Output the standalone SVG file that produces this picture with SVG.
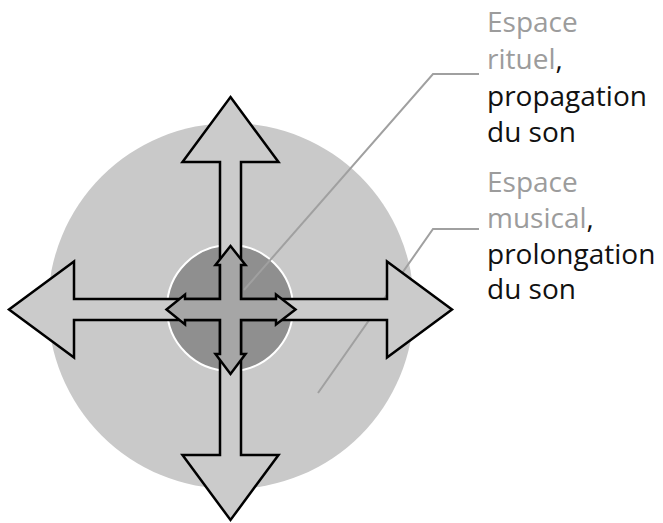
<svg xmlns="http://www.w3.org/2000/svg" width="663" height="523" viewBox="0 0 663 523">
<style>
.lbl{font-family:"Open Sans","Noto Sans",sans-serif;font-size:28px}
.g{fill:#9c9c9c}
.k{fill:#111111}
.lead{fill:none;stroke:#a0a0a0;stroke-width:2}
.arrow{stroke:#000;stroke-width:2.5;stroke-linejoin:miter}
</style>
<rect width="663" height="523" fill="#ffffff"/>
<g id="outer-space">
<circle cx="231" cy="306" r="183" fill="#c9c9c9"/>
</g>
<g id="inner-space">
<circle cx="230" cy="308" r="63" fill="#8f8f8f" stroke="#ffffff" stroke-width="2"/>
</g>
<g id="connectors">
<polyline class="lead" points="479,74 433,74 244,290"/>
<polyline class="lead" points="479,229 433,229 318,393"/>
</g>
<g id="big-cross">
<polygon class="arrow" fill="#cbcbcb" points="230.5,97 278.5,162 241,162 241,299 387,299 387,261.5 452,309.5 387,357.5 387,320 241,320 241,455 278.5,455 230.5,520 182.5,455 220,455 220,320 74,320 74,357.5 9,309.5 74,261.5 74,299 220,299 220,162 182.5,162"/>
</g>
<g id="small-cross">
<polygon class="arrow" fill="#a6a6a6" points="230.5,246 245.5,265 241,265 241,299 276,299 276,294.5 295.5,309.5 276,324.5 276,320 241,320 241,354 245.5,354 230.5,374 215.5,354 220,354 220,320 185,320 185,324.5 166.5,309.5 185,294.5 185,299 220,299 220,265 215.5,265"/>
</g>
<g id="label-ritual">
<text class="lbl" x="487"><tspan class="g" x="487" y="32">Espace</tspan><tspan class="g" x="487" y="69">rituel</tspan><tspan class="k">,</tspan><tspan class="k" x="487" y="106">propagation</tspan><tspan class="k" x="487" y="142">du son</tspan></text>
</g>
<g id="label-musical">
<text class="lbl" x="487"><tspan class="g" x="487" y="192">Espace</tspan><tspan class="g" x="487" y="228">musical</tspan><tspan class="k">,</tspan><tspan class="k" x="487" y="264">prolongation</tspan><tspan class="k" x="487" y="299">du son</tspan></text>
</g>
</svg>
